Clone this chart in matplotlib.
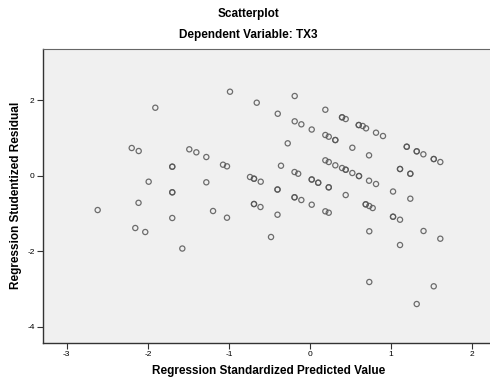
import matplotlib.pyplot as plt
import numpy as np

plt.rcParams['font.family'] = ['Liberation Sans', 'DejaVu Sans']
plt.rcParams['axes.unicode_minus'] = False

# standardized predicted value (x) and studentized residual (y)
pred = [-1.908, -0.987, -0.657, -2.199, -2.113, -1.489, -1.402, -1.279, -1.699, -1.699,
        -1.073, -1.024, -1.990, -1.279, -1.699, -1.699, -0.740, -0.691, -0.691, -0.608,
        -2.115, -2.619, -1.699, -2.155, -2.032, -1.575, -1.196, -1.024, -0.691, -0.691,
        -0.611, -0.275, 0.021, -0.358, -0.191, -0.146, 0.021, 0.021, 0.101, 0.101,
        -0.401, -0.401, -0.191, -0.191, -0.107, 0.021, -0.401, -0.481,
        -0.189, -0.398, -0.189, -0.107, 0.189, 0.395, 0.395, 0.440, 0.601, 0.601,
        0.650, 0.691, 0.814, 0.900, 0.189, 0.231, 0.312, 0.312, 0.522, 0.728,
        1.193, 1.193, 1.316, 1.316, 1.398, 1.526, 1.526, 1.607,
        0.189, 0.231, 0.312, 0.395, 0.440, 0.440, 0.522, 0.604, 0.604, 0.728, 0.814,
        1.110, 1.110, 1.237, 1.237, 1.024, 1.237, 0.231, 0.231, 0.440,
        0.189, 0.231, 0.687, 0.687, 0.731, 0.773, 1.024, 1.024, 1.110,
        0.731, 1.400, 1.607, 1.110, 0.731, 1.526, 1.316]
resid = [1.797, 2.221, 1.930, 0.731, 0.651, 0.696, 0.617, 0.492, 0.236, 0.236,
         0.289, 0.246, -0.161, -0.177, -0.442, -0.442, -0.037, -0.082, -0.082, -0.161,
         -0.720, -0.911, -1.122, -1.387, -1.493, -1.930, -0.937, -1.114, -0.752, -0.752,
         -0.831, 0.855, 1.220, 0.262, 0.095, 0.050, -0.103, -0.103, -0.188, -0.188,
         -0.368, -0.368, -0.574, -0.574, -0.646, -0.770, -1.035, -1.625,
         2.107, 1.638, 1.437, 1.358, 1.744, 1.543, 1.543, 1.498, 1.339, 1.339,
         1.313, 1.252, 1.136, 1.048, 1.075, 1.030, 0.942, 0.942, 0.738, 0.537,
         0.765, 0.765, 0.643, 0.643, 0.564, 0.439, 0.439, 0.360,
         0.405, 0.360, 0.273, 0.201, 0.156, 0.156, 0.069, -0.011, -0.011, -0.135, -0.222,
         0.175, 0.175, 0.050, 0.050, -0.421, -0.611, -0.310, -0.310, -0.514,
         -0.945, -0.982, -0.760, -0.760, -0.805, -0.858, -1.088, -1.088, -1.167,
         -1.474, -1.466, -1.670, -1.837, -2.816, -2.930, -3.399]

xticks = [-3, -2, -1, 0, 1, 2]
yticks = [-4, -2, 0, 2]

fig = plt.figure(figsize=(4.9, 3.83), dpi=100)
ax = fig.add_axes([0.0878, 0.1044, 0.92, 0.7676])
ax.set_facecolor('#f0f0f0')

ax.scatter(pred, resid, s=14, facecolors='none', edgecolors='#555555', linewidths=0.9, alpha=0.85)

ax.set_xlim(-3.293, 2.267)
ax.set_ylim(-4.431, 3.351)
ax.set_xticks(xticks)
ax.set_yticks(yticks)
ax.tick_params(labelsize=6, length=4, width=0.8, color='#333333', pad=2)

for side in ['left', 'bottom']:
    ax.spines[side].set_color('#333333')
    ax.spines[side].set_linewidth(1.0)
ax.spines['top'].set_color('#666666')
ax.spines['top'].set_linewidth(0.8)
ax.spines['right'].set_visible(False)

ax.set_xlabel('Regression Standardized Predicted Value', fontsize=8.5, fontweight='bold', labelpad=5)
fig.text(16 / 490, 1 - 195 / 383, 'Regression Studentized Residual', fontsize=8.5, fontweight='bold',
         rotation=90, ha='center', va='center')

fig.text(248 / 490, 1 - 14 / 383, 'Scatterplot', fontsize=8.5, fontweight='bold', ha='center', va='center')
fig.text(248 / 490, 1 - 35 / 383, 'Dependent Variable: TX3', fontsize=8.5, fontweight='bold',
         ha='center', va='center')

fig.savefig('out.png', dpi=100)
